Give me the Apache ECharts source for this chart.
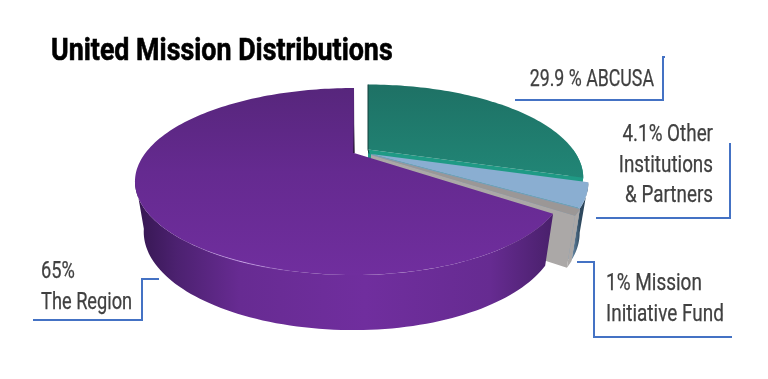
<!DOCTYPE html>
<html><head><meta charset="utf-8">
<script src="https://cdn.jsdelivr.net/npm/echarts@6/dist/echarts.min.js"></script>
<style>html,body{margin:0;padding:0;background:#fff}#c{width:768px;height:379px}</style>
</head><body><div id="c"></div>
<script>
const titleText = 'United Mission Distributions';
const categories = ['ABCUSA', 'Other Institutions & Partners', 'Mission Initiative Fund', 'The Region'];
const shares = [29.9, 4.1, 1, 65];
const labelLines = [
  ['29.9 % ABCUSA'],
  ['4.1% Other', 'Institutions', '& Partners'],
  ['1% Mission', 'Initiative Fund'],
  ['65%', 'The Region']
];

const PERSP = 0.305, RY = 84.8, DEPTH = 49, BOTTOM_X = 0.96, BOTTOM_Y = 1.05;
const apexes = [[368, 149.5], [371, 154], [371, 155], [354, 153]];
const radiusRight = [205, 207, 207, 202];
const radiusLeft = [205, 207, 207, 208.6];
const FONT = 'Roboto,sans-serif';

function grad(x, y, x2, y2, stops) {
  return {type: 'linear', x, y, x2, y2, colorStops: stops.map(s => ({offset: s[0], color: s[1]}))};
}
const topFill = [
  grad(0, 0, 0, 1, [[0, '#1e7165'], [1, '#218676']]),
  '#8aaed1', '#9b9796',
  grad(0, 0, 0, 1, [[0, '#57267c'], [0.45, '#652a90'], [1, '#702e9e']])
];
const wallFill = [
  '#1f9a85',
  grad(0, 0, 1, 0, [[0, '#6c8eab'], [0.5, '#2f4a60'], [1, '#283f52']]),
  '#aba8a7',
  grad(0, 0, 1, 0, [[0, '#34164f'], [0.1, '#4c2170'], [0.25, '#672b92'], [0.55, '#702e9e'], [0.85, '#662b91'], [1, '#49206b']])
];
const cutFill = ['#1f9a85', '#7f9cb8', '#aba8a7', '#4a2070'];

function pt(i, deg, low) {
  const r = deg * Math.PI / 180, u = Math.sin(r), v = Math.cos(r), w = 1 + PERSP * v;
  const a = apexes[i], rx = u >= 0 ? radiusRight[i] : radiusLeft[i];
  return [a[0] + (low ? BOTTOM_X : 1) * rx * u / w,
          a[1] - (low ? BOTTOM_Y : 1) * RY * v / w + (low ? DEPTH : 0)];
}
function apexPt(i, low) {
  const a = apexes[i];
  return [a[0], a[1] + (low ? DEPTH : 0)];
}
function arc(i, from, to, low) {
  const n = Math.max(2, Math.ceil(Math.abs(to - from) / 1.5)), out = [];
  for (let j = 0; j <= n; j++) out.push(pt(i, from + (to - from) * j / n, low));
  return out;
}
const total = shares.reduce((s, v) => s + v, 0);
const starts = [];
shares.reduce((acc, v, i) => { starts[i] = acc; return acc + v / total * 360; }, 0);

function renderSlice(params, api) {
  const i = params.dataIndex;
  const from = starts[i], to = from + api.value(1) / total * 360;
  const kids = [];
  const poly = (points, fill) => kids.push({type: 'polygon', shape: {points}, style: {fill}});
  const line = (points, stroke, lw) => kids.push({type: 'polyline', shape: {points}, style: {stroke, fill: 'none', lineWidth: lw}});

  // exposed cut face along the slice's clockwise end
  poly([apexPt(i, 0), pt(i, to, 0), pt(i, to, 1), apexPt(i, 1)], cutFill[i]);
  // outer wall, closed along the left silhouette of the disc
  const wallTo = i === 3 ? 254 : to;
  const wallFrom = Math.max(from, 90);
  if (wallTo > wallFrom) poly(arc(i, wallFrom, wallTo, 0).concat(arc(i, wallTo, wallFrom, 1)), wallFill[i]);
  // top surface
  poly([apexPt(i, 0)].concat(arc(i, from, to, 0)), topFill[i]);
  // rim highlight on the front-left edge
  if (i === 3) {
    line(arc(i, 192, 216, 0), grad(0, 0, 1, 0, [[0, 'rgba(200,165,235,0)'], [0.5, 'rgba(205,170,235,0.85)'], [1, 'rgba(200,165,235,0)']]), 1);
  }
  // dark sliver on the back-facing cut
  if (i === 0) line([pt(i, from, 0), apexPt(i, 0), [apexPt(i, 0)[0] + 1, apexPt(i, 0)[1] + 4]], '#123f3a', 1);
  if (i === 3) line([pt(i, to, 0), apexPt(i, 0)], grad(0, 0, 0, 1, [[0, 'rgba(30,15,45,0)'], [0.55, 'rgba(30,15,45,0.25)'], [1, 'rgba(20,10,30,1)']]), 1.4);
  return {type: 'group', children: kids};
}

function callout(points) {
  return {type: 'polyline', shape: {points}, style: {stroke: '#4472c4', lineWidth: 2, fill: 'none'}, z: 5};
}
function textBlock(lines, x, y, align, sx) {
  return lines.map((t, j) => ({
    type: 'text', x, y: y + j * 30.5, z: 6, scaleX: sx, scaleY: 1,
    style: {text: t, x: 0, y: 0, align, verticalAlign: 'middle', font: '24px ' + FONT, fill: '#404040', stroke: '#404040', lineWidth: 0.25}
  }));
}

const chart = echarts.init(document.getElementById('c'), null, {renderer: 'canvas'});
chart.setOption({
  animation: false,
  backgroundColor: '#ffffff',
  series: [{
    type: 'custom',
    coordinateSystem: 'none',
    renderItem: renderSlice,
    silent: true,
    data: categories.map((c, i) => ({name: c, value: [i, shares[i]]}))
  }],
  graphic: [
    {type: 'text', x: 51, y: 52, z: 6, scaleX: 0.865, scaleY: 1,
     style: {text: titleText, x: 0, y: 0, align: 'left', verticalAlign: 'middle',
             font: 'bold 31px ' + FONT, fill: '#000000', stroke: '#000000', lineWidth: 0.6}},
    callout([[515, 100], [663, 100], [663, 57], [665, 57]]),
    callout([[596, 218], [730, 218], [730, 143]]),
    callout([[577, 262], [594, 262], [594, 337], [732, 337]]),
    callout([[159, 279], [142, 279], [142, 320], [33, 320]])
  ].concat(
    textBlock(labelLines[0], 654, 80, 'right', 0.74),
    textBlock(labelLines[1], 713, 135, 'right', 0.785),
    textBlock(labelLines[2], 606, 284, 'left', 0.79),
    textBlock(labelLines[3], 41, 272, 'left', 0.76)
  )
});
</script></body></html>
